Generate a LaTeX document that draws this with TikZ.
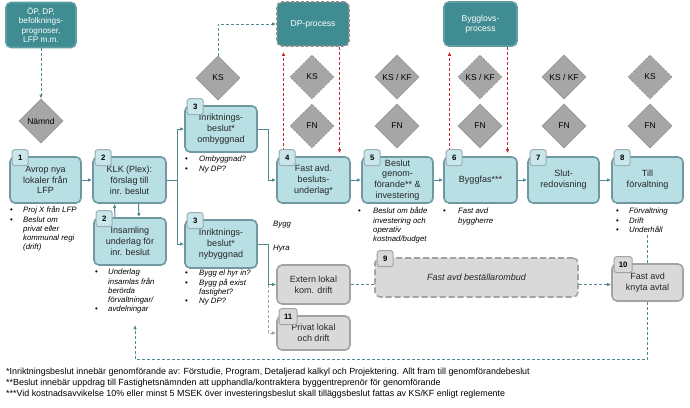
\documentclass[tikz,border=0pt]{standalone}
\usepackage{fontspec}
\setmainfont{Liberation Sans}
\usetikzlibrary{arrows.meta,shapes.geometric}

\definecolor{topfill}{HTML}{3F8C92}
\definecolor{topline}{HTML}{5C9EA4}
\definecolor{boxfill}{HTML}{B8DFE4}
\definecolor{boxline}{HTML}{7098A0}
\definecolor{greyfill}{HTML}{D9D9D9}
\definecolor{greyline}{HTML}{A3A3A3}
\definecolor{gatefill}{HTML}{A6A6A6}
\definecolor{gateline}{HTML}{979797}
\definecolor{flowcol}{HTML}{4F8A90}
\definecolor{redflow}{HTML}{C0282D}
\definecolor{badgefill}{HTML}{C9E7EB}
\definecolor{badgeline}{HTML}{9AAFB3}

\newcommand{\dotmark}{{\upshape\textbullet}}

\tikzset{
	procbox/.style={draw=boxline, fill=boxfill, line width=1.6pt, rounded corners=5pt, align=center, inner sep=1pt, minimum width=72pt, minimum height=46pt, font=\fontsize{9}{10.8}\selectfont, text=black!85},
	greybox/.style={procbox, draw=greyline, fill=greyfill},
	topbox/.style={procbox, draw=topline, fill=topfill, text=white, font=\fontsize{8.6}{10.3}\selectfont},
	badge/.style={draw=badgeline, fill=badgefill, line width=1pt, rounded corners=2.5pt, minimum size=16pt, inner sep=1pt, font=\bfseries\fontsize{7.8}{8}\selectfont},
	greybadge/.style={badge, fill=greyfill, draw=greyline},
	gate/.style={diamond, draw=gateline, fill=gatefill, line width=0.8pt, minimum size=44pt, inner sep=0pt, font=\fontsize{8.5}{9}\selectfont},
	gatedash/.style={gate, dash pattern=on 2pt off 1.5pt},
	notes/.style={anchor=north west, inner sep=0pt, font=\itshape\fontsize{7.8}{9.3}\selectfont},
	flow/.style={draw=flowcol, line width=1pt, -{Latex[length=4pt,width=3.5pt]}},
	flowline/.style={draw=flowcol, line width=1pt},
	dashline/.style={flowline, dash pattern=on 3pt off 2pt},
	dashflow/.style={flow, dash pattern=on 3pt off 2pt},
	greydash/.style={draw=greyline, line width=1pt, dash pattern=on 3pt off 2pt, -{Latex[length=4pt,width=3.5pt]}},
	reddash/.style={draw=redflow, line width=0.9pt, dash pattern=on 3pt off 2pt, -{Latex[length=4pt,width=3.5pt]}},
}

\begin{document}
\begin{tikzpicture}[x=1pt,y=-1pt]
			%%%%% START %%%%%
			\useasboundingbox (0,0) rectangle (690,407);
			
			% underlag, namnd, processer
			\node[topbox, minimum width=70pt, minimum height=45pt, font=\fontsize{8.2}{9.6}\selectfont] (src) at (41,25) {ÖP, DP,\\befolknings-\\prognoser,\\LFP m.m.};
			\node[gate] (namnd) at (41,121) {Nämnd};
			\node[gate] (ksA) at (218,78) {KS};
			\node[topbox, minimum width=72pt, minimum height=44pt, draw=black!45, dash pattern=on 3pt off 2pt] (dp) at (313,24) {DP-process};
			\node[topbox, minimum width=73pt, minimum height=44pt] (bl) at (480.5,24) {Bygglovs-\\process};
			
			\node[gatedash] (ks1) at (312,77) {KS};
			\node[gate] (ks2) at (397,77) {KS / KF};
			\node[gatedash] (ks3) at (480,77) {KS / KF};
			\node[gate] (ks4) at (564,77) {KS / KF};
			\node[gatedash] (ks5) at (650,77) {KS};
			\node[gatedash] (fn1) at (312,126) {FN};
			\node[gate] (fn2) at (397,126) {FN};
			\node[gate] (fn3) at (480,126) {FN};
			\node[gate] (fn4) at (564,126) {FN};
			\node[gate] (fn5) at (650,126) {FN};
			
			% steg
			\node[procbox, minimum width=71pt] (b1) at (45.5,180) {Avrop nya\\lokaler från\\LFP};
			\node[procbox, minimum width=73pt] (b2) at (129.5,180) {KLK (Plex):\\förslag till\\inr. beslut};
			\node[procbox, minimum width=72pt, minimum height=47pt] (b2s) at (130,241.5) {Insamling\\underlag för\\inr. beslut};
			\node[procbox] (b3o) at (221,129) {Inriktnings-\\beslut*\\ombyggnad};
			\node[procbox, minimum height=48pt] (b3n) at (221,244) {Inriktnings-\\beslut*\\nybyggnad};
			\node[procbox, minimum width=73pt] (b4) at (313.5,180) {Fast avd.\\besluts-\\underlag*};
			\node[procbox, minimum width=71pt] (b5) at (397.5,180) {Beslut\\genom-\\förande** \&\\investering};
			\node[procbox, minimum width=73pt] (b6) at (480.5,180) {Byggfas***};
			\node[procbox, minimum width=71pt] (b7) at (563.5,180) {Slut-\\redovisning};
			\node[procbox, minimum width=71pt] (b8) at (647.5,180) {Till\\förvaltning};
			
			\node[greybox, minimum width=73pt, minimum height=39pt] (ext) at (313.5,284.5) {Extern lokal\\kom. drift};
			\node[greybox, minimum width=73pt, minimum height=34pt] (b11) at (313.5,333) {Privat lokal\\och drift};
			\node[greybox, minimum width=203pt, minimum height=39pt, dash pattern=on 6pt off 3pt] (b9) at (476.5,277.5) {\itshape Fast avd beställarombud};
			\node[greybox, minimum width=71pt, minimum height=37pt] (b10) at (647.5,282.5) {Fast avd\\knyta avtal};
			
			% punktlistor
			\node[notes] (t1) at (10,206) {\begin{tabular}{@{}p{13pt}@{}l@{}}\dotmark & Proj X från LFP\\ \dotmark & Beslut om\\ & privat eller\\ & kommunal regi\\ & (drift)\end{tabular}};
			\node[notes] (t2s) at (95,268) {\begin{tabular}{@{}p{13pt}@{}l@{}}\dotmark & Underlag\\ & insamlas från\\ & berörda\\ & förvaltningar/\\ \dotmark & avdelningar\end{tabular}};
			\node[notes] (t3o) at (185,155) {\begin{tabular}{@{}p{14pt}@{}l@{}}\dotmark & Ombyggnad?\\ \dotmark & Ny DP?\end{tabular}};
			\node[notes] (t3n) at (185,269) {\begin{tabular}{@{}p{14pt}@{}l@{}}\dotmark & Bygg el hyr in?\\ \dotmark & Bygg på exist\\ & fastighet?\\ \dotmark & Ny DP?\end{tabular}};
			\node[notes] (t5) at (358,207) {\begin{tabular}{@{}p{15pt}@{}l@{}}\dotmark & Beslut om både\\ & investering och\\ & operativ\\ & kostnad/budget\end{tabular}};
			\node[notes] (t6) at (443,207) {\begin{tabular}{@{}p{15pt}@{}l@{}}\dotmark & Fast avd\\ & byggherre\end{tabular}};
			\node[notes] (t8) at (616,207) {\begin{tabular}{@{}p{13pt}@{}l@{}}\dotmark & Förvaltning\\ \dotmark & Drift\\ \dotmark & Underhåll\end{tabular}};
			\node[notes, anchor=west] (bygg) at (273,225) {Bygg};
			\node[notes, anchor=west] (hyra) at (273,249) {Hyra};
			
			% pilar
			\coordinate (bus) at (268,0);
			\coordinate (ret) at (135,359);
			\draw[dashflow] (src.south) -- (namnd.north);
			\draw[dashflow] (ksA.north) |- (dp.west);
			\draw[flow] (b1.east) -- (b2.west);
			\draw[flow] ([xshift=-15pt]b2s.north) -- ([xshift=-15pt]b2.south);
			\draw[flow] ([xshift=9pt]b2.south) -- ([xshift=9pt]b2s.north);
			\draw[flow] (b2.east) -- ++(11,0) |- (b3o.west);
			\draw[flow] (b2.east) -- ++(11,0) |- (b3n.west);
			\draw[flow] (b3o.east) -| (bus |- b4.west) -- (b4.west);
			\draw[flow] (b3n.east) -| (bus |- ext.west) -- (ext.west);
			\draw[greydash] (bus |- ext.west) |- (b11.west);
			\draw[flow] (b4) -- (b5);
			\draw[flow] (b5) -- (b6);
			\draw[flow] (b6) -- (b7);
			\draw[flow] (b7) -- (b8);
			\draw[dashline] (ext.east) -- (ext.east -| b9.west);
			\draw[dashflow] (ext.east -| b9.east) -- (ext.east -| b10.west);
			\draw[dashline] (b10.north |- t8.south) -- (b10.north);
			\draw[dashflow, shorten >=10pt] (b10.south) |- (ret) -- (ret |- t2s.south);
			
			\draw[reddash, shorten >=5pt] ([xshift=-30pt]b4.north) -- ([xshift=-30pt]b4.north |- dp.south);
			\draw[reddash, shorten >=3pt] ([xshift=26pt]b4.north |- dp.south) -- ([xshift=26pt]b4.north);
			\draw[reddash, shorten >=5pt] ([xshift=-31pt]b6.north) -- ([xshift=-31pt]b6.north |- bl.south);
			\draw[reddash, shorten >=3pt] ([xshift=27pt]b6.north |- bl.south) -- ([xshift=27pt]b6.north);
			
			% nummer
			\node[badge] (n1) at ([xshift=11pt,yshift=-1.5pt]b1.north west) {1};
			\node[badge] (n2) at ([xshift=11pt,yshift=-1.5pt]b2.north west) {2};
			\node[badge] (n2s) at ([xshift=11pt,yshift=-1.5pt]b2s.north west) {2};
			\node[badge] (n3o) at ([xshift=11pt,yshift=-1.5pt]b3o.north west) {3};
			\node[badge] (n3n) at ([xshift=11pt,yshift=-1.5pt]b3n.north west) {3};
			\node[badge] (n4) at ([xshift=11pt,yshift=-1.5pt]b4.north west) {4};
			\node[badge] (n5) at ([xshift=11pt,yshift=-1.5pt]b5.north west) {5};
			\node[badge] (n6) at ([xshift=11pt,yshift=-1.5pt]b6.north west) {6};
			\node[badge] (n7) at ([xshift=11pt,yshift=-1.5pt]b7.north west) {7};
			\node[badge] (n8) at ([xshift=11pt,yshift=-1.5pt]b8.north west) {8};
			\node[greybadge] (n9) at ([xshift=11pt,yshift=-1.5pt]b9.north west) {9};
			\node[greybadge, minimum width=18pt] (n10) at ([xshift=12pt,yshift=-1.5pt]b10.north west) {10};
			\node[greybadge, minimum width=18pt] (n11) at ([xshift=12pt,yshift=-1.5pt]b11.north west) {11};
			
			% fotnoter
			\node[anchor=north west, inner sep=0pt, align=left, font=\fontsize{8.9}{11}\selectfont] (foot) at (6,368) {*Inriktningsbeslut innebär genomförande av: Förstudie, Program, Detaljerad kalkyl och Projektering. Allt fram till genomförandebeslut\\**Beslut innebär uppdrag till Fastighetsnämnden att upphandla/kontraktera byggentreprenör för genomförande\\***Vid kostnadsavvikelse 10\% eller minst 5 MSEK över investeringsbeslut skall tilläggsbeslut fattas av KS/KF enligt reglemente};
			
			%%%%% END %%%%%
\end{tikzpicture}
\end{document}
